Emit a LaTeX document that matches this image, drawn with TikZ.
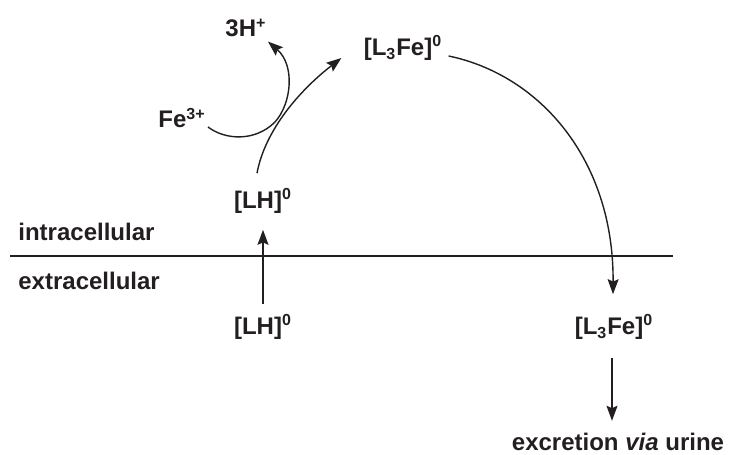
\documentclass[tikz,border=0pt]{standalone}
\usepackage{fontspec}
\setmainfont{Liberation Sans}
\usepackage{tikz}
\usetikzlibrary{arrows.meta,positioning,calc}
\definecolor{inkgray}{HTML}{231F20}
\tikzset{
  chem/.style={font=\fontsize{12}{14}\selectfont\bfseries, text=inkgray, inner sep=0pt},
  arr/.style={-{Stealth[length=7.5pt,width=5.5pt,inset=1.2pt]}, line width=0.7pt, draw=inkgray},
  membrane/.style={line width=1pt, draw=inkgray}
}

\begin{document}
\begin{tikzpicture}[x=0.5pt,y=-0.5pt]
  \useasboundingbox (0,0) rectangle (729,455);
  \node[chem] (hplus) at (246,28) {3H\textsuperscript{+}};
  \node[chem] (fe) at (182,118) {Fe\textsuperscript{3+}};
  \node[chem] (l3fein) at (403,48) {[L\textsubscript{3}Fe]\textsuperscript{0}};
  \node[chem] (lhin) at (263,201) {[LH]\textsuperscript{0}};
  \node[chem] (lhout) at (263,327) {[LH]\textsuperscript{0}};
  \node[chem] (l3feout) at (614,327) {[L\textsubscript{3}Fe]\textsuperscript{0}};
  \node[chem] (urine) at (618,442) {excretion \textit{via} urine};
  \node[chem, anchor=west] (intra) at (18,232) {intracellular};
  \node[chem, anchor=west] (extra) at (18,281) {extracellular};
  \coordinate (memleft) at (10,256);
  \coordinate (memright) at (673,256);
  \draw[membrane] (memleft) -- (memright);
  \draw[arr, shorten <=5pt, shorten >=8pt] (lhout.north) -- (lhin.south);
  \draw[arr] ([shift={(-6,-15)}]lhin.north) .. controls (265,130) and (300,90) .. ([shift={(-22,10)}]l3fein.west);
  \draw[arr] ([shift={(2,9)}]fe.east) .. controls (225,140) and (255,142) .. (275,122)
    .. controls (292,103) and (295,65) .. ([shift={(22,4)}]hplus.south);
  \draw[arr] ([shift={(6,8)}]l3fein.east) .. controls (540,75) and (614,160) .. ([shift={(-1,-20)}]l3feout.north);
  \draw[arr, shorten <=9pt, shorten >=6pt] ([xshift=-1pt]l3feout.south) -- ([xshift=-1pt]l3feout.south |- urine.north);
\end{tikzpicture}
\end{document}
